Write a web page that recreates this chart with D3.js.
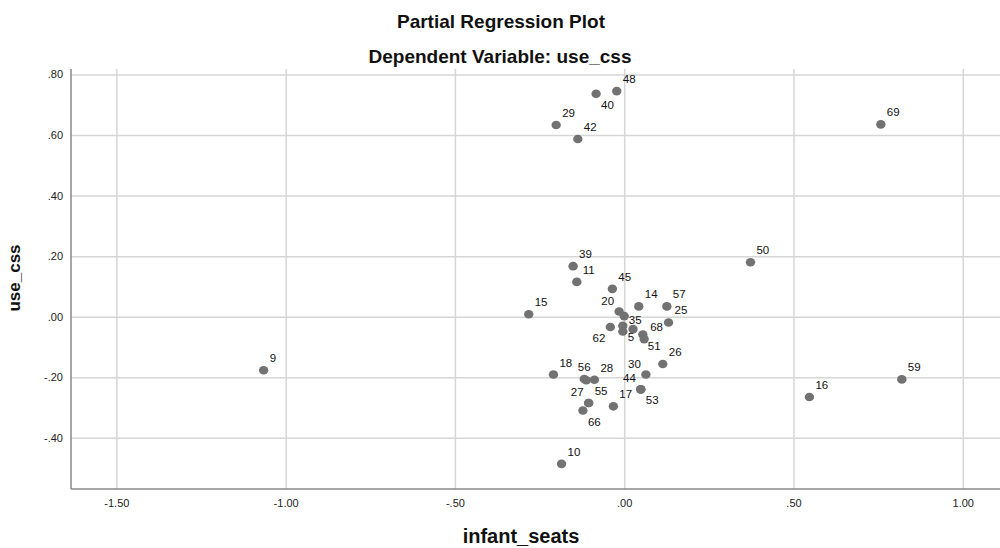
<!DOCTYPE html>
<html>
<head>
<meta charset="utf-8">
<script src="https://cdn.jsdelivr.net/npm/d3@7"></script>
<style>
  body { margin: 0; background: #fff; }
  svg { font-family: "Liberation Sans", Arial, sans-serif; }
  .grid line { stroke: #d6d6d6; stroke-width: 1.5; }
  .tick text { fill: #222; font-size: 11px; }
  .chart-title { font-size: 19px; font-weight: bold; fill: #111; }
  .axis-title { font-weight: bold; fill: #111; }
  .point { fill: #727272; }
  .point-label { font-size: 11.5px; fill: #111; }
</style>
</head>
<body>
<div id="chart"></div>
<script>
// Case labels, partial residuals and label placement
const caseIds = ['9', '15', '39', '11', '45', '20', '', '14', '57', '25', '62', '5', '35', '', '51', '68',
  '26', '18', '56', '', '28', '30', '44', '53', '55', '27', '66', '17', '48', '40', '29', '42', '69', '10',
  '50', '59', '16'];
const infantSeats = [-1.065, -0.282, -0.151, -0.140, -0.035, -0.015, 0.000, 0.043, 0.126, 0.131, -0.041,
  -0.004, -0.004, 0.026, 0.055, 0.059, 0.114, -0.209, -0.118, -0.112, -0.088, 0.064, 0.049, 0.049, -0.105,
  -0.105, -0.122, -0.032, -0.022, -0.083, -0.201, -0.137, 0.758, -0.185, 0.373, 0.820, 0.547];
const useCss = [-0.177, 0.008, 0.167, 0.115, 0.092, 0.017, 0.002, 0.034, 0.034, -0.019, -0.034, -0.030,
  -0.049, -0.041, -0.059, -0.074, -0.156, -0.191, -0.206, -0.210, -0.208, -0.191, -0.240, -0.240, -0.285,
  -0.285, -0.310, -0.296, 0.745, 0.736, 0.633, 0.587, 0.635, -0.486, 0.180, -0.207, -0.265];
const labelSide = ['ne', 'ne', 'ne', 'ne', 'ne', 'nw', '', 'ne', 'ne', 'ne', 'sw', 'se', 'ne', '', 'se', 'ne',
  'ne', 'ne', 'n', '', 'ne', 'nw', 'nw', 'se', 'ne', 'nw', 'se', 'ne', 'ne', 'se', 'ne', 'ne', 'ne', 'ne',
  'ne', 'ne', 'ne'];

const xTicks = [-1.5, -1.0, -0.5, 0, 0.5, 1.0];
const yTicks = [-0.4, -0.2, 0, 0.2, 0.4, 0.6, 0.8];

const data = caseIds.map((id, i) => ({id, x: infantSeats[i], y: useCss[i], side: labelSide[i]}));

const config = {
  containerWidth: 1000,
  containerHeight: 548,
  margin: {top: 69, right: 0, bottom: 59, left: 71}
};
const width = config.containerWidth - config.margin.left - config.margin.right;
const height = config.containerHeight - config.margin.top - config.margin.bottom;

// SPSS style numbers: .80, -.20
const fmt = d => d3.format('.2f')(d).replace('\u2212', '-').replace(/^(-?)0\./, '$1.');

const xScale = d3.scaleLinear().domain([-1.634, 1.11]).range([0, width]);
const yScale = d3.scaleLinear().domain([-0.569, 0.818]).range([height, 0]);

const svg = d3.select('#chart').append('svg')
    .attr('width', config.containerWidth)
    .attr('height', config.containerHeight);

const chart = svg.append('g')
    .attr('transform', `translate(${config.margin.left},${config.margin.top})`);

// Gridlines + tick labels
chart.append('g')
    .attr('class', 'grid x-axis')
    .attr('transform', `translate(0,${height})`)
    .call(d3.axisBottom(xScale).tickValues(xTicks).tickFormat(fmt).tickSize(-height).tickPadding(9))
    .call(g => g.select('.domain').remove())
    .call(g => g.selectAll('.tick text').attr('dy', '0.85em'));

chart.append('g')
    .attr('class', 'grid y-axis')
    .call(d3.axisLeft(yScale).tickValues(yTicks).tickFormat(fmt).tickSize(-width).tickPadding(8))
    .call(g => g.select('.domain').remove());

// Axis lines
chart.append('line')
    .attr('x1', 0).attr('x2', width)
    .attr('y1', height).attr('y2', height)
    .attr('stroke', '#888').attr('stroke-width', 1.5);
chart.append('line')
    .attr('x1', 0).attr('x2', 0)
    .attr('y1', 0).attr('y2', height)
    .attr('stroke', '#888').attr('stroke-width', 1.5);

// Points
chart.selectAll('.point')
    .data(data)
  .join('ellipse')
    .attr('class', 'point')
    .attr('cx', d => xScale(d.x))
    .attr('cy', d => yScale(d.y))
    .attr('rx', 4.7)
    .attr('ry', 4.3);

// Case labels
const offsets = {
  ne: {dx: 6, dy: -8, anchor: 'start'},
  nw: {dx: -5, dy: -7, anchor: 'end'},
  se: {dx: 5, dy: 15, anchor: 'start'},
  sw: {dx: -5, dy: 15, anchor: 'end'},
  n: {dx: 0, dy: -8, anchor: 'middle'}
};

chart.selectAll('.point-label')
    .data(data.filter(d => d.id !== ''))
  .join('text')
    .attr('class', 'point-label')
    .attr('x', d => xScale(d.x) + offsets[d.side].dx)
    .attr('y', d => yScale(d.y) + offsets[d.side].dy)
    .attr('text-anchor', d => offsets[d.side].anchor)
    .text(d => d.id);

// Titles
svg.append('text')
    .attr('class', 'chart-title')
    .attr('x', 501).attr('y', 28)
    .attr('text-anchor', 'middle')
    .text('Partial Regression Plot');

svg.append('text')
    .attr('class', 'chart-title')
    .attr('x', 500).attr('y', 63)
    .attr('text-anchor', 'middle')
    .text('Dependent Variable: use_css');

svg.append('text')
    .attr('class', 'axis-title')
    .attr('x', 521).attr('y', 543)
    .attr('text-anchor', 'middle')
    .style('font-size', '20px')
    .text('infant_seats');

svg.append('text')
    .attr('class', 'axis-title')
    .attr('transform', 'translate(20,278) rotate(-90)')
    .attr('text-anchor', 'middle')
    .style('font-size', '17px')
    .text('use_css');
</script>
</body>
</html>
